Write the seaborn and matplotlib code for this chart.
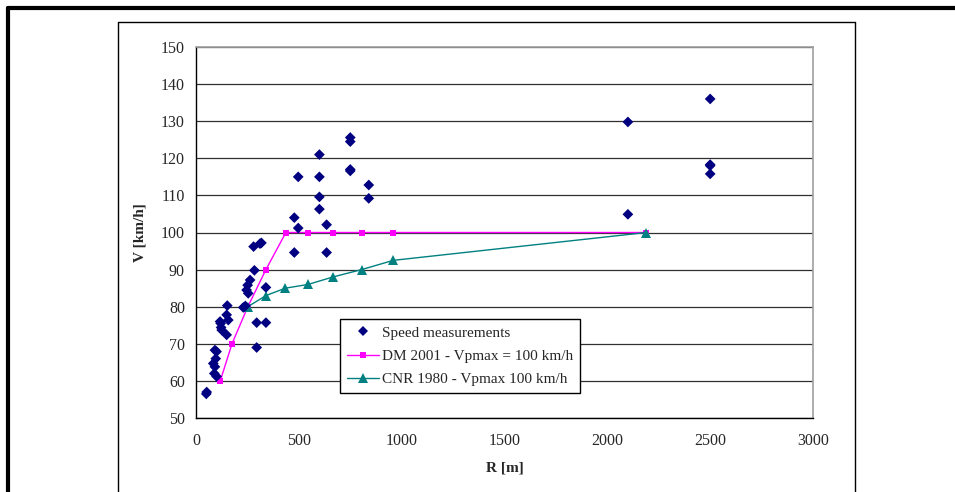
import matplotlib
matplotlib.use("Agg")
import matplotlib.pyplot as plt
import seaborn as sns
import pandas as pd
from matplotlib.lines import Line2D

# ---- data ----
meas_R = [50, 52, 89, 100, 92, 84, 96, 100, 92, 117, 125, 149, 157, 149, 122, 120,
          152, 230, 240, 246, 254, 251, 263, 284, 295, 340, 295, 340, 280, 311, 318,
          478, 497, 478, 497, 600, 600, 600, 600, 635, 635, 750, 750, 750, 750,
          840, 840, 2100, 2100, 2500, 2500, 2500, 2500]
meas_V = [56.5, 57, 62, 61.2, 63.8, 64.7, 66, 67.9, 68.3, 76, 73.7, 72.4, 76.4, 77.8, 74.4, 75.5,
          80.3, 79.8, 80.2, 84.5, 83.6, 85.8, 87.2, 89.8, 75.7, 75.7, 69, 85.2, 96.2, 97, 97.2,
          104, 101.2, 94.6, 115, 121, 115, 109.6, 106.3, 102.1, 94.6, 125.6, 124.5, 117, 116.6,
          112.8, 109.2, 129.8, 104.9, 136, 118.3, 118, 115.8]

dm_R = [118, 175, 252, 340, 437, 545, 665, 805, 960, 2190]
dm_V = [60, 70, 80, 90, 100, 100, 100, 100, 100, 100]

cnr_R = [252, 340, 435, 545, 665, 805, 960, 2190]
cnr_V = [80, 83, 85, 86, 88, 90, 92.5, 100]

x_ticks = [0, 500, 1000, 1500, 2000, 2500, 3000]
y_ticks = [50, 60, 70, 80, 90, 100, 110, 120, 130, 140, 150]

sns.set_style("white")
plt.rcParams['font.family'] = ['Liberation Serif', 'DejaVu Serif']

fig = plt.figure(figsize=(9.55, 4.92), dpi=100)
ax = fig.add_axes([196/955, 1-418/492, (813-196)/955, (418-47)/492])

df_m = pd.DataFrame({"R": meas_R, "V": meas_V})
df_dm = pd.DataFrame({"R": dm_R, "V": dm_V})
df_cnr = pd.DataFrame({"R": cnr_R, "V": cnr_V})

for y in y_ticks:
    ax.axhline(y, color="#303030", lw=0.9, zorder=0)

sns.lineplot(data=df_dm, x="R", y="V", ax=ax, color="#FF00FF", lw=1.0, marker="s",
             markersize=4, markeredgewidth=0, sort=False, estimator=None, zorder=3)
sns.lineplot(data=df_cnr, x="R", y="V", ax=ax, color="#008080", lw=1.0, marker="^",
             markersize=7, markeredgewidth=0, sort=False, estimator=None, zorder=4)
sns.scatterplot(data=df_m, x="R", y="V", ax=ax, color="#000080", marker="D", s=30,
                edgecolor="none", zorder=5)

ax.set_xlim(0, 3000)
ax.set_ylim(50, 150)
ax.set_xticks(x_ticks)
ax.set_yticks(y_ticks)
ax.set_xticklabels([str(t) for t in x_ticks], fontsize=11.5)
ax.set_yticklabels([str(t) for t in y_ticks], fontsize=11.5)
ax.tick_params(axis="both", direction="out", length=5, width=1, color="black")
ax.tick_params(axis="x", pad=6)
ax.tick_params(axis="y", pad=3)

for s in ["left", "bottom"]:
    ax.spines[s].set_color("black")
    ax.spines[s].set_linewidth(1.0)
for s in ["right", "top"]:
    ax.spines[s].set_color("#A0A0A0")
    ax.spines[s].set_linewidth(1.2)

ax.set_xlabel("R [m]", fontsize=11, fontweight="bold", labelpad=9)
ax.set_ylabel("V [km/h]", fontsize=11, fontweight="bold", labelpad=10)

handles = [
    Line2D([], [], color="#000080", marker="D", ls="none", markersize=5, markeredgewidth=0),
    Line2D([], [], color="#FF00FF", marker="s", lw=1.0, markersize=4, markeredgewidth=0),
    Line2D([], [], color="#008080", marker="^", lw=1.0, markersize=7, markeredgewidth=0),
]
labels = ["Speed measurements", "DM 2001 - Vpmax = 100 km/h", "CNR 1980 - Vpmax 100 km/h"]
leg = ax.legend(handles, labels, loc="lower left",
                bbox_to_anchor=((340-196)/617, (418-393)/371), fontsize=11,
                frameon=True, fancybox=False, shadow=False, framealpha=1,
                edgecolor="black", borderpad=0.45, handlelength=2.1, labelspacing=0.62,
                handletextpad=0.2, borderaxespad=0)
leg.get_frame().set_linewidth(1.0)
leg.set_zorder(10)

# outer frames
fig.add_artist(Line2D([8/955, 8/955], [0, 1-8/492], color="black", lw=3, transform=fig.transFigure))
fig.add_artist(Line2D([8/955, 1], [1-8/492, 1-8/492], color="black", lw=3, transform=fig.transFigure))
fig.add_artist(Line2D([118/955, 118/955], [0, 1-22/492], color="black", lw=1, transform=fig.transFigure))
fig.add_artist(Line2D([855/955, 855/955], [0, 1-22/492], color="black", lw=1, transform=fig.transFigure))
fig.add_artist(Line2D([118/955, 855/955], [1-22/492, 1-22/492], color="black", lw=1, transform=fig.transFigure))

fig.savefig("out.png", dpi=100)
